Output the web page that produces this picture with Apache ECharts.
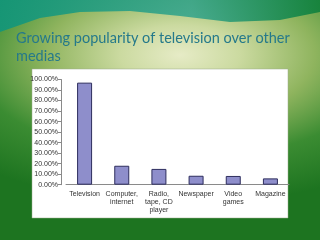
<!DOCTYPE html>
<html>
<head>
<meta charset="utf-8">
<script src="https://cdn.jsdelivr.net/npm/echarts@6/dist/echarts.min.js"></script>
<style>
  html, body { margin: 0; padding: 0; }
  #chart { width: 320px; height: 240px; }
</style>
</head>
<body>
<div id="chart"></div>
<script>
// media categories and share of people (percent)
var categories = ['Television', 'Computer,\ninternet', 'Radio,\ntape, CD\nplayer', 'Newspaper', 'Video\ngames', 'Magazine'];
var shares = [97, 18, 15, 8.5, 8.3, 6];
var yTicks = { min: 0, max: 100, step: 10 };
var titleText = 'Growing popularity of television over other\nmedias';

var myChart = echarts.init(document.getElementById('chart'));

var option = {
  animation: false,
  backgroundColor: '#1d7420',
  graphic: [
    // slide background: wide light glow behind the title
    {
      type: 'rect', z: -10, silent: true,
      shape: { x: -120, y: -245, width: 600, height: 600 },
      scaleY: 0.5, originX: 180, originY: 55,
      style: {
        fill: new echarts.graphic.RadialGradient(0.5, 0.5, 0.5, [
          { offset: 0, color: '#e6ebc6' },
          { offset: 0.2, color: '#cbdaa0' },
          { offset: 0.45, color: '#8fb45e' },
          { offset: 0.7, color: '#3b8c32' },
          { offset: 1, color: '#1d7420' }
        ])
      }
    },
    {
      type: 'polygon', z: -9, silent: true,
      shape: { points: [[0, 0], [320, 0], [320, 12], [280, 20], [230, 22], [180, 16], [130, 11], [80, 12], [40, 18], [0, 32]] },
      style: {
        fill: new echarts.graphic.LinearGradient(0, 0, 1, 0, [
          { offset: 0, color: 'rgba(20,150,120,0.95)' },
          { offset: 0.6, color: 'rgba(40,160,140,0.8)' },
          { offset: 1, color: 'rgba(20,130,60,0.95)' }
        ])
      }
    },
    {
      type: 'rect', z: -8, silent: true,
      shape: { x: 32, y: 69, width: 256, height: 149 },
      style: { fill: '#ffffff', stroke: '#9aa88a', lineWidth: 0.5 }
    },
    {
      type: 'text', z: 10,
      left: 16, top: 29,
      style: {
        text: titleText,
        fill: '#25798a',
        font: '14.5px Lato',
        lineHeight: 18
      }
    }
  ],
  grid: { left: 66, right: 31, top: 79.5, bottom: 55.3 },
  xAxis: {
    type: 'category',
    data: categories,
    axisLine: { lineStyle: { color: '#8a8a8a', width: 1 } },
    axisTick: { alignWithLabel: false, length: 3, lineStyle: { color: '#8a8a8a' } },
    axisLabel: {
      interval: 0,
      color: '#333333',
      fontFamily: 'Liberation Sans',
      fontSize: 7,
      lineHeight: 8,
      margin: 5
    }
  },
  yAxis: {
    type: 'value',
    min: yTicks.min,
    max: yTicks.max,
    interval: yTicks.step,
    offset: 5,
    splitLine: { show: false },
    axisLine: { show: true, lineStyle: { color: '#8a8a8a', width: 1 } },
    axisTick: { show: true, length: 3, lineStyle: { color: '#8a8a8a' } },
    axisLabel: {
      color: '#333333',
      fontFamily: 'Liberation Sans',
      fontSize: 7,
      margin: 3,
      formatter: function (v) { return v.toFixed(2) + '%'; }
    }
  },
  series: [{
    type: 'bar',
    data: shares,
    barWidth: 15,
    itemStyle: { color: '#8e8ecb', borderColor: '#2e2e5e', borderWidth: 1 }
  }]
};

myChart.setOption(option);
</script>
</body>
</html>
